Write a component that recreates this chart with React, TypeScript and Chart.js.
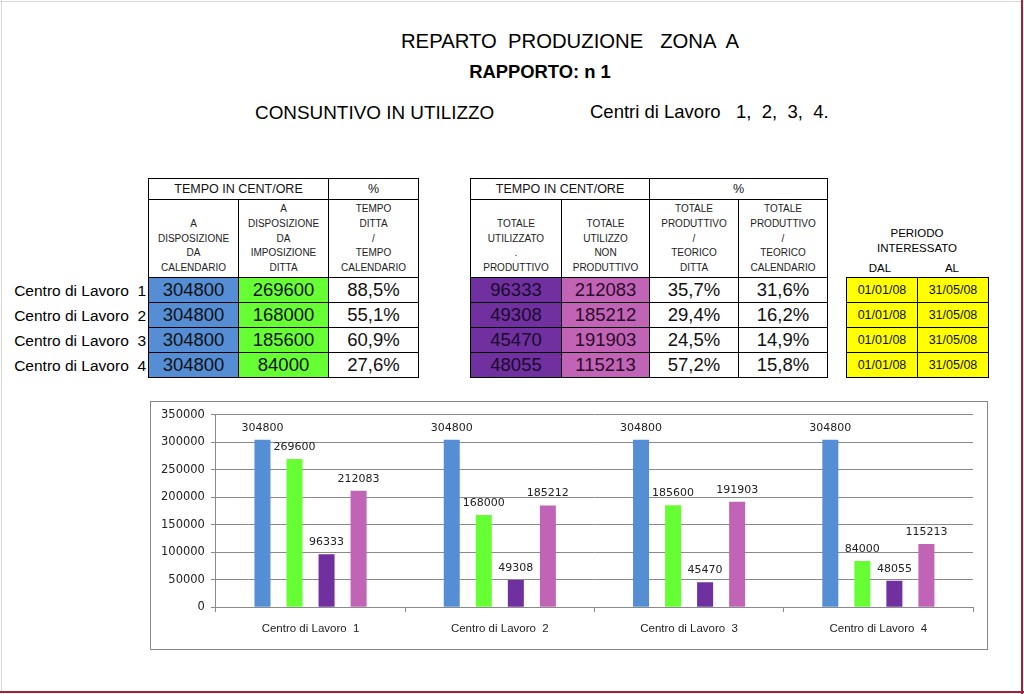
import React, { useEffect, useRef } from "react";
import { Chart, registerables } from "chart.js";

Chart.register(...registerables);

// ---- data ----
const categories = ["Centro di Lavoro  1", "Centro di Lavoro  2", "Centro di Lavoro  3", "Centro di Lavoro  4"];
const dispCalendario = [304800, 304800, 304800, 304800];
const dispDitta = [269600, 168000, 185600, 84000];
const totProduttivo = [96333, 49308, 45470, 48055];
const totNonProduttivo = [212083, 185212, 191903, 115213];
const pctDittaCalendario = ["88,5%", "55,1%", "60,9%", "27,6%"];
const pctProdDitta = ["35,7%", "29,4%", "24,5%", "57,2%"];
const pctProdCalendario = ["31,6%", "16,2%", "14,9%", "15,8%"];
const periodoDal = ["01/01/08", "01/01/08", "01/01/08", "01/01/08"];
const periodoAl = ["31/05/08", "31/05/08", "31/05/08", "31/05/08"];
const yMax = 350000;
const yStep = 50000;

const headLeft = ["A\nDISPOSIZIONE\nDA\nCALENDARIO", "A\nDISPOSIZIONE\nDA\nIMPOSIZIONE\nDITTA", "TEMPO\nDITTA\n/\nTEMPO\nCALENDARIO"];
const headRight = ["TOTALE\nUTILIZZATO\n.\nPRODUTTIVO", "TOTALE\nUTILIZZO\nNON\nPRODUTTIVO", "TOTALE\nPRODUTTIVO\n/\nTEORICO\nDITTA", "TOTALE\nPRODUTTIVO\n/\nTEORICO\nCALENDARIO"];

// ---- colours ----
const BLUE = "#558ED5";
const GREEN = "#66FF33";
const PURPLE = "#7030A0";
const PINK = "#C264B6";
const YELLOW = "#FFFF00";

const FONT = '"Liberation Sans", Arial, sans-serif';

// ---- layout geometry ----
const rowY = [277, 302, 327, 352, 377];
const leftX = [148, 238, 328, 418];
const rightX = [470, 561, 649, 738, 827];
const perX = [846, 917, 988];

type BoxProps = {
  x: number; y: number; w: number; h: number; bg?: string; children?: React.ReactNode; style?: React.CSSProperties;
};

function Box({ x, y, w, h, bg, children, style }: BoxProps) {
  return (
    <div
      style={{
        position: "absolute",
        left: x,
        top: y,
        width: w + 1,
        height: h + 1,
        boxSizing: "border-box",
        border: "1px solid #000",
        background: bg || "#fff",
        display: "flex",
        alignItems: "center",
        justifyContent: "center",
        textAlign: "center",
        whiteSpace: "pre",
        ...style,
      }}
    >
      {children}
    </div>
  );
}

function HeadCell({ x, y, w, h, text }: { x: number; y: number; w: number; h: number; text: string }) {
  return (
    <Box
      x={x}
      y={y}
      w={w}
      h={h}
      style={{
        flexDirection: "column",
        justifyContent: "flex-end",
        fontSize: 10,
        lineHeight: "14.8px",
        color: "#222",
        paddingBottom: 1,
      }}
    >
      {text.split("\n").map((t, i) => (
        <div key={i}>{t}</div>
      ))}
    </Box>
  );
}

function Text({ x, y, text, size, bold, align, w }: { x: number; y: number; text: string; size: number; bold?: boolean; align?: "left" | "center" | "right"; w?: number }) {
  const lh = Math.round(size * 1.3);
  let left = x;
  const width = w || 600;
  if (align === "center") left = x - width / 2;
  if (align === "right") left = x - width;
  return (
    <div
      style={{
        position: "absolute",
        left,
        top: y - lh / 2,
        width,
        lineHeight: lh + "px",
        fontSize: size,
        fontWeight: bold ? "bold" : "normal",
        textAlign: align || "left",
        whiteSpace: "pre",
        color: "#000",
      }}
    >
      {text}
    </div>
  );
}

const valueLabels = {
  id: "valueLabels",
  afterDatasetsDraw(chart: any) {
    const ctx = chart.ctx;
    ctx.save();
    ctx.font = '11px "DejaVu Sans"';
    ctx.fillStyle = "#222";
    ctx.textAlign = "center";
    ctx.textBaseline = "middle";
    chart.data.datasets.forEach((ds: any, i: number) => {
      chart.getDatasetMeta(i).data.forEach((el: any, j: number) => {
        ctx.fillText(String(ds.data[j]), el.x, el.y - 12);
      });
    });
    ctx.restore();
  },
};

function BarChart() {
  const ref = useRef<HTMLCanvasElement | null>(null);
  useEffect(() => {
    if (!ref.current) return;
    const grid = "#8A8A8A";
    const chart = new Chart(ref.current, {
      type: "bar",
      data: {
        labels: categories,
        datasets: [
          { data: dispCalendario, backgroundColor: BLUE },
          { data: dispDitta, backgroundColor: GREEN },
          { data: totProduttivo, backgroundColor: PURPLE },
          { data: totNonProduttivo, backgroundColor: PINK },
        ],
      },
      options: {
        responsive: false,
        maintainAspectRatio: false,
        animation: false,
        devicePixelRatio: 1,
        layout: { padding: { left: 4, right: 14, top: 12, bottom: 3 } },
        datasets: { bar: { barPercentage: 0.5, categoryPercentage: 0.677 } },
        plugins: { legend: { display: false }, tooltip: { enabled: false }, title: { display: false } },
        scales: {
          x: {
            offset: true,
            grid: { display: true, drawOnChartArea: false, drawTicks: true, tickLength: 5, color: grid, offset: true },
            border: { color: grid },
            ticks: { font: { family: "Liberation Sans", size: 11.5 }, color: "#222", padding: 10, maxRotation: 0 },
          },
          y: {
            min: 0,
            max: yMax,
            grid: { color: grid, tickLength: 5 },
            border: { color: grid },
            ticks: {
              stepSize: yStep,
              font: { family: "DejaVu Sans", size: 11.5 },
              color: "#222",
              padding: 6,
              callback: (v: any) => String(v),
            },
          },
        },
      },
      plugins: [valueLabels],
    });
    return () => chart.destroy();
  }, []);
  return <canvas ref={ref} width={836} height={247} style={{ position: "absolute", left: 0, top: 0 }} />;
}

export default function App() {
  return (
    <div
      style={{
        position: "fixed",
        left: 0,
        top: 0,
        width: 1024,
        height: 694,
        background: "#fff",
        fontFamily: FONT,
        overflow: "hidden",
      }}
    >
      {/* page edges */}
      <div style={{ position: "absolute", left: 1, top: 0, width: 1, height: 694, background: "#d6d6d6" }} />
      <div style={{ position: "absolute", left: 0, top: 1, width: 1024, height: 1, background: "#d6d6d6" }} />
      <div style={{ position: "absolute", left: 1021, top: 0, width: 2, height: 694, background: "#A32035" }} />
      <div style={{ position: "absolute", left: 0, top: 691, width: 1024, height: 2, background: "#A32035" }} />

      {/* titles */}
      <Text x={570} y={41} text={"REPARTO  PRODUZIONE   ZONA  A"} size={20.3} align="center" />
      <Text x={540} y={72} text={"RAPPORTO: n 1"} size={18.4} bold align="center" />
      <Text x={255} y={112} text={"CONSUNTIVO IN UTILIZZO"} size={18.9} />
      <Text x={590} y={112} text={"Centri di Lavoro   1,  2,  3,  4."} size={18.5} />

      {/* left table headers */}
      <Box x={leftX[0]} y={178} w={leftX[2] - leftX[0]} h={21} style={{ fontSize: 12.5, color: "#111" }}>TEMPO IN CENT/ORE</Box>
      <Box x={leftX[2]} y={178} w={leftX[3] - leftX[2]} h={21} style={{ fontSize: 12.5, color: "#111" }}>%</Box>
      {headLeft.map((t, i) => (
        <HeadCell key={"hl" + i} x={leftX[i]} y={199} w={leftX[i + 1] - leftX[i]} h={rowY[0] - 199} text={t} />
      ))}

      {/* right table headers */}
      <Box x={rightX[0]} y={178} w={rightX[2] - rightX[0]} h={21} style={{ fontSize: 12.5, color: "#111" }}>TEMPO IN CENT/ORE</Box>
      <Box x={rightX[2]} y={178} w={rightX[4] - rightX[2]} h={21} style={{ fontSize: 12.5, color: "#111" }}>%</Box>
      {headRight.map((t, i) => (
        <HeadCell key={"hr" + i} x={rightX[i]} y={199} w={rightX[i + 1] - rightX[i]} h={rowY[0] - 199} text={t} />
      ))}

      {/* period header */}
      <Text x={917} y={233} text={"PERIODO"} size={11.5} align="center" w={120} />
      <Text x={917} y={248} text={"INTERESSATO"} size={11.5} align="center" w={120} />
      <Text x={880} y={268} text={"DAL"} size={11.5} align="center" w={60} />
      <Text x={952} y={268} text={"AL"} size={11.5} align="center" w={60} />

      {/* rows */}
      {categories.map((c, r) => {
        const y = rowY[r];
        const h = rowY[r + 1] - y;
        const data = { fontSize: 18.5, color: "#111" } as React.CSSProperties;
        return (
          <React.Fragment key={"row" + r}>
            <Text x={146} y={y + h / 2 + 1} text={c} size={15.5} align="right" w={150} />
            <Box x={leftX[0]} y={y} w={leftX[1] - leftX[0]} h={h} bg={BLUE} style={data}>{String(dispCalendario[r])}</Box>
            <Box x={leftX[1]} y={y} w={leftX[2] - leftX[1]} h={h} bg={GREEN} style={data}>{String(dispDitta[r])}</Box>
            <Box x={leftX[2]} y={y} w={leftX[3] - leftX[2]} h={h} style={data}>{pctDittaCalendario[r]}</Box>
            <Box x={rightX[0]} y={y} w={rightX[1] - rightX[0]} h={h} bg={PURPLE} style={{ ...data, color: "#1a0a2a" }}>{String(totProduttivo[r])}</Box>
            <Box x={rightX[1]} y={y} w={rightX[2] - rightX[1]} h={h} bg={PINK} style={{ ...data, color: "#2a0a2a" }}>{String(totNonProduttivo[r])}</Box>
            <Box x={rightX[2]} y={y} w={rightX[3] - rightX[2]} h={h} style={data}>{pctProdDitta[r]}</Box>
            <Box x={rightX[3]} y={y} w={rightX[4] - rightX[3]} h={h} style={data}>{pctProdCalendario[r]}</Box>
            <Box x={perX[0]} y={y} w={perX[1] - perX[0]} h={h} bg={YELLOW} style={{ fontSize: 12.5, color: "#111" }}>{periodoDal[r]}</Box>
            <Box x={perX[1]} y={y} w={perX[2] - perX[1]} h={h} bg={YELLOW} style={{ fontSize: 12.5, color: "#111" }}>{periodoAl[r]}</Box>
          </React.Fragment>
        );
      })}

      {/* chart */}
      <div
        style={{
          position: "absolute",
          left: 150,
          top: 401,
          width: 838,
          height: 249,
          boxSizing: "border-box",
          border: "1px solid #868686",
          background: "#fff",
        }}
      >
        <div style={{ position: "absolute", left: 0, top: 0, width: 836, height: 247 }}>
          <BarChart />
        </div>
      </div>
    </div>
  );
}
